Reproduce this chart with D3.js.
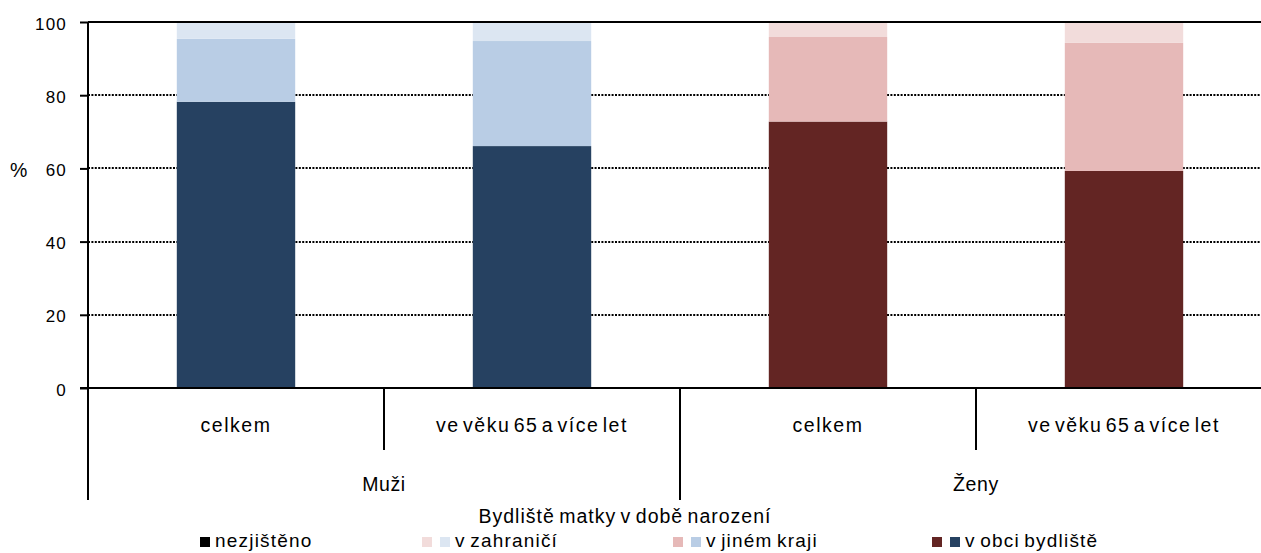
<!DOCTYPE html>
<html>
<head>
<meta charset="utf-8">
<script src="https://cdn.jsdelivr.net/npm/d3@7"></script>
<style>
  body { margin: 0; background: #fff; }
  text { font-family: "Liberation Sans", Arial, sans-serif; fill: #000; }
  .cat { font-size: 19.5px; letter-spacing: 1.5px; word-spacing: -3.5px; }
  .grp { font-size: 19.5px; letter-spacing: 0.6px; }
  .title { font-size: 19.5px; letter-spacing: 1px; word-spacing: -2px; }
  .leg { font-size: 19px; letter-spacing: 1.2px; word-spacing: -2px; }
  .tick text { font-size: 17px; letter-spacing: 1.2px; }
</style>
</head>
<body>
<div id="chart"></div>
<script>
// data
var groups = ["Muži", "Ženy"];
var categories = ["celkem", "ve věku 65 a více let", "celkem", "ve věku 65 a více let"];
var categoryGroup = [0, 0, 1, 1];
var vObci = [78.2, 66.1, 72.8, 59.3];
var vJinemKraji = [17.2, 28.7, 23.1, 35.0];
var vZahranici = [4.6, 5.2, 4.1, 5.7];
var nezjisteno = [0, 0, 0, 0];
var yTicks = [0, 20, 40, 60, 80, 100];

var width = 1261, height = 553;
var margin = { left: 88, top: 22, right: -11, bottom: 165 };

var blues = ["#264161", "#B9CDE5", "#DCE6F2", "#000000"];
var reds = ["#632523", "#E6B9B8", "#F2DCDB", "#000000"];

var svg = d3.select("#chart").append("svg")
  .attr("width", width)
  .attr("height", height);

var x = d3.scaleBand()
  .domain(d3.range(categories.length))
  .range([margin.left, width - margin.right])
  .padding(0);

var y = d3.scaleLinear()
  .domain([0, 100])
  .range([height - margin.bottom, margin.top]);

// gridlines (dotted)
svg.append("g")
  .selectAll("line")
  .data(yTicks.filter(function(d) { return d > 0 && d < 100; }))
  .enter().append("line")
  .attr("x1", margin.left).attr("x2", width)
  .attr("y1", function(d) { return Math.round(y(d)); })
  .attr("y2", function(d) { return Math.round(y(d)); })
  .attr("stroke", "#000")
  .attr("stroke-width", 2)
  .attr("stroke-dasharray", "2,1.4");

// stacked bars
var rows = categories.map(function(c, i) {
  return { i: i, obci: vObci[i], kraj: vJinemKraji[i], zahr: vZahranici[i], nez: nezjisteno[i] };
});
var stacked = d3.stack().keys(["obci", "kraj", "zahr", "nez"])(rows);
var barW = x.bandwidth() * 0.4;

svg.append("g")
  .selectAll("g")
  .data(stacked)
  .enter().append("g")
  .each(function(layer, k) {
    d3.select(this).selectAll("rect")
      .data(layer)
      .enter().append("rect")
      .attr("x", function(d) { return x(d.data.i) + (x.bandwidth() - barW) / 2; })
      .attr("width", barW)
      .attr("y", function(d) { return y(Math.min(100, d[1])); })
      .attr("height", function(d) { return Math.max(0, y(d[0]) - y(Math.min(100, d[1]))); })
      .attr("fill", function(d) { return categoryGroup[d.data.i] === 0 ? blues[k] : reds[k]; });
  });

// top border at 100
svg.append("line")
  .attr("x1", margin.left).attr("x2", width)
  .attr("y1", y(100)).attr("y2", y(100))
  .attr("stroke", "#000").attr("stroke-width", 2);

// y axis
var yAxis = d3.axisLeft(y).tickValues(yTicks).tickSize(8).tickPadding(13);
var ya = svg.append("g")
  .attr("transform", "translate(" + margin.left + ",0)")
  .call(yAxis);
ya.attr("font-size", null).attr("font-family", null);
ya.select(".domain").remove();
ya.selectAll(".tick line").attr("stroke", "#000").attr("stroke-width", 2);
ya.selectAll(".tick text").attr("fill", "#000").attr("dy", "0.42em");

// left axis line, extends down through category area
svg.append("line")
  .attr("x1", margin.left).attr("x2", margin.left)
  .attr("y1", y(100)).attr("y2", 500)
  .attr("stroke", "#000").attr("stroke-width", 2);

// zero baseline
svg.append("line")
  .attr("x1", margin.left - 8).attr("x2", width)
  .attr("y1", y(0)).attr("y2", y(0))
  .attr("stroke", "#000").attr("stroke-width", 2);

// category separators
d3.range(1, categories.length).forEach(function(i) {
  var isGroup = categoryGroup[i] !== categoryGroup[i - 1];
  svg.append("line")
    .attr("x1", x(i)).attr("x2", x(i))
    .attr("y1", y(0)).attr("y2", isGroup ? 500 : 450)
    .attr("stroke", "#000").attr("stroke-width", 2);
});

// category labels
svg.append("g")
  .selectAll("text")
  .data(categories)
  .enter().append("text")
  .attr("class", "cat")
  .attr("x", function(d, i) { return x(i) + x.bandwidth() / 2; })
  .attr("y", 432)
  .attr("text-anchor", "middle")
  .text(function(d) { return d; });

// group labels
svg.append("g")
  .selectAll("text")
  .data(groups)
  .enter().append("text")
  .attr("class", "grp")
  .attr("x", function(d, g) {
    var idx = d3.range(categories.length).filter(function(i) { return categoryGroup[i] === g; });
    return (x(idx[0]) + x(idx[idx.length - 1]) + x.bandwidth()) / 2;
  })
  .attr("y", 491)
  .attr("text-anchor", "middle")
  .text(function(d) { return d; });

// y title
svg.append("text")
  .attr("class", "grp")
  .attr("x", 19).attr("y", 177)
  .attr("text-anchor", "middle")
  .text("%");

// x title
svg.append("text")
  .attr("class", "title")
  .attr("x", 625).attr("y", 523)
  .attr("text-anchor", "middle")
  .text("Bydliště matky v době narození");

// legend
var legendItems = [
  { label: "nezjištěno", colors: ["#000000"], x: 200 },
  { label: "v zahraničí", colors: [reds[2], blues[2]], x: 422 },
  { label: "v jiném kraji", colors: [reds[1], blues[1]], x: 673 },
  { label: "v obci bydliště", colors: [reds[0], blues[0]], x: 932 }
];
var lg = svg.append("g");
legendItems.forEach(function(item) {
  var cx = item.x;
  item.colors.forEach(function(c) {
    lg.append("rect")
      .attr("x", cx).attr("y", 537)
      .attr("width", 10).attr("height", 10)
      .attr("fill", c);
    cx += 18;
  });
  lg.append("text")
    .attr("class", "leg")
    .attr("x", cx - 3).attr("y", 547)
    .text(item.label);
});
</script>
</body>
</html>
